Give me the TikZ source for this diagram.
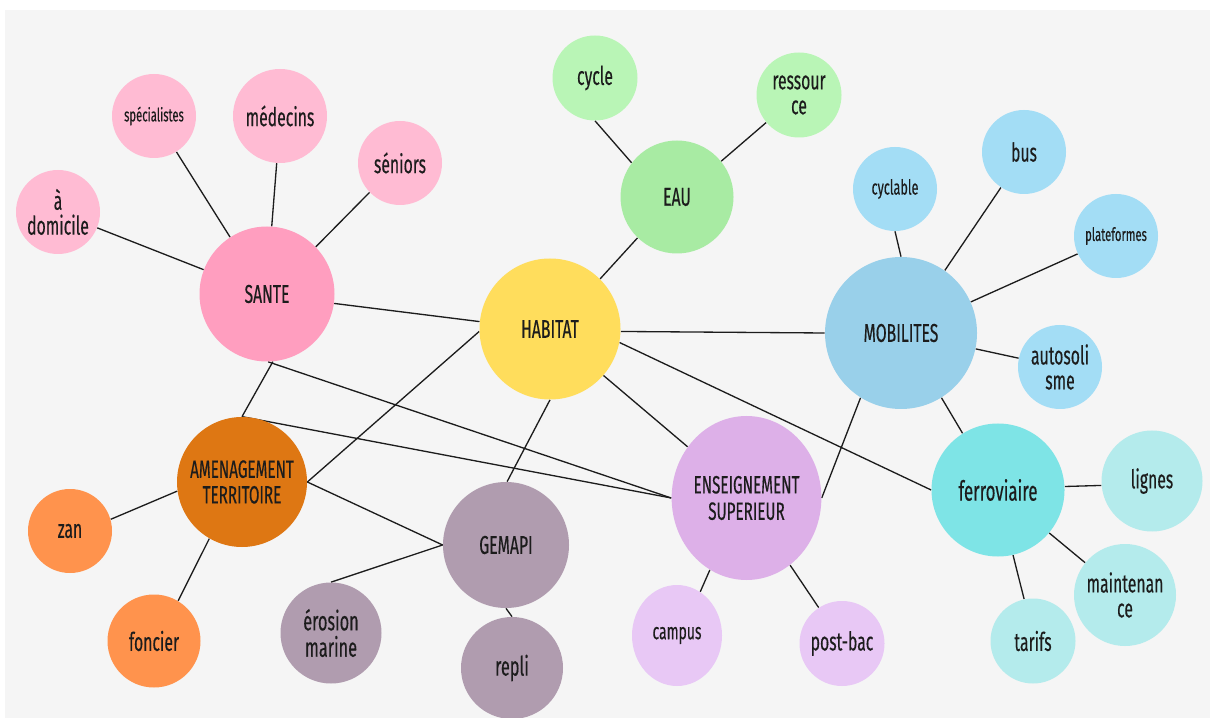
\documentclass[tikz,border=0pt]{standalone}
\usepackage{fontspec}
\setmainfont[FakeStretch=0.61,FakeBold=0.3]{Fira Sans}
\usepackage{tikz}
\usetikzlibrary{shapes.geometric}
\pgfdeclarelayer{bglayer}
\pgfdeclarelayer{edgelayer}
\pgfdeclarelayer{nodelayer}
\pgfsetlayers{bglayer,edgelayer,nodelayer,main}
\definecolor{paper}{HTML}{F5F5F5}
\definecolor{ink}{HTML}{1C1C1C}
\definecolor{santeC}{HTML}{FF9EBF}
\definecolor{santeL}{HTML}{FFBBD3}
\definecolor{habitatC}{HTML}{FFDD5C}
\definecolor{eauC}{HTML}{A8EBA3}
\definecolor{eauL}{HTML}{B9F5B6}
\definecolor{mobC}{HTML}{99D0EA}
\definecolor{mobL}{HTML}{A3DDF5}
\definecolor{ferroC}{HTML}{7EE4E6}
\definecolor{ferroL}{HTML}{B4EBEC}
\definecolor{ensC}{HTML}{DDB0E8}
\definecolor{ensL}{HTML}{E8C8F5}
\definecolor{gemC}{HTML}{B09CAF}
\definecolor{amenC}{HTML}{DE7713}
\definecolor{amenL}{HTML}{FF934D}
\tikzstyle{bubble}=[circle,inner sep=0pt,align=center,text=ink]
\tikzstyle{hub}=[bubble,font=\fontsize{14.7}{15}\selectfont]
\tikzstyle{leaf}=[bubble,font=\fontsize{14.7}{14.2}\selectfont]
\tikzstyle{link}=[draw=ink,line width=0.75pt]

\begin{document}
\begin{tikzpicture}
	\useasboundingbox (0,0) rectangle (24.2,-14.36);
	\begin{pgfonlayer}{bglayer}
		\fill [paper] (0.1,-0.2) rectangle (24.2,-14.36);
	\end{pgfonlayer}
	\begin{pgfonlayer}{nodelayer}
		\node [style=hub, fill=santeC, minimum size=2.70cm] (sante) at (5.34, -5.88) {SANTE};
		\node [style=hub, fill=habitatC, minimum size=2.82cm] (habitat) at (11.00, -6.58) {HABITAT};
		\node [style=hub, fill=eauC, minimum size=2.26cm] (eau) at (13.54, -3.94) {EAU};
		\node [style=hub, fill=mobC, minimum size=3.04cm] (mobilites) at (18.02, -6.66) {MOBILITES};
		\node [style=hub, fill=amenC, minimum size=2.60cm, font=\fontsize{14.2}{14.6}\selectfont] (amenagement) at (4.84, -9.64) {AMENAGEMENT\\TERRITOIRE};
		\node [style=hub, fill=gemC, minimum size=2.52cm] (gemapi) at (10.12, -10.90) {GEMAPI};
		\node [style=hub, ellipse, fill=ensC, minimum width=2.98cm, minimum height=3.28cm, font=\fontsize{14.2}{15}\selectfont] (ens) at (14.93, -9.96) {ENSEIGNEMENT\\SUPERIEUR};
		\node [style=hub, fill=ferroC, minimum size=2.66cm, font=\fontsize{15.7}{15.7}\selectfont] (ferroviaire) at (19.96, -9.80) {ferroviaire};
		\node [style=leaf, fill=santeL, minimum size=1.68cm] (domicile) at (1.16, -4.24) {à\\domicile};
		\node [style=leaf, fill=santeL, minimum size=1.68cm, font=\fontsize{10.5}{12}\selectfont] (specialistes) at (3.08, -2.32) {spécialistes};
		\node [style=leaf, fill=santeL, minimum size=1.88cm] (medecins) at (5.60, -2.32) {médecins};
		\node [style=leaf, fill=santeL, minimum size=1.68cm] (seniors) at (8.00, -3.26) {séniors};
		\node [style=leaf, fill=eauL, minimum size=1.70cm] (cycle) at (11.90, -1.56) {cycle};
		\node [style=leaf, fill=eauL, minimum size=1.70cm] (ressource) at (15.98, -1.90) {ressour\\ce};
		\node [style=leaf, fill=mobL, minimum size=1.68cm, font=\fontsize{11.8}{12}\selectfont] (cyclable) at (17.90, -3.78) {cyclable};
		\node [style=leaf, fill=mobL, minimum size=1.68cm] (bus) at (20.48, -3.04) {bus};
		\node [style=leaf, fill=mobL, minimum size=1.68cm, font=\fontsize{10.5}{12}\selectfont] (plateformes) at (22.32, -4.72) {plateformes};
		\node [style=leaf, fill=mobL, minimum size=1.68cm] (autosolisme) at (21.20, -7.34) {autosoli\\sme};
		\node [style=leaf, fill=ferroL, minimum size=2.02cm] (lignes) at (23.04, -9.62) {lignes};
		\node [style=leaf, fill=ferroL, minimum size=2.04cm] (maintenance) at (22.50, -11.90) {maintenan\\ce};
		\node [style=leaf, fill=ferroL, minimum size=1.70cm] (tarifs) at (20.66, -12.82) {tarifs};
		\node [style=leaf, ellipse, fill=ensL, minimum width=1.80cm, minimum height=2.02cm, font=\fontsize{13}{13}\selectfont] (campus) at (13.54, -12.71) {campus};
		\node [style=leaf, fill=ensL, minimum size=1.70cm] (postbac) at (16.84, -12.87) {post-bac};
		\node [style=leaf, fill=gemC, minimum size=2.02cm, font=\fontsize{15.2}{15}\selectfont] (erosion) at (6.62, -12.66) {érosion\\marine};
		\node [style=leaf, fill=gemC, minimum size=2.04cm, font=\fontsize{15.2}{15}\selectfont] (repli) at (10.24, -13.36) {repli};
		\node [style=leaf, fill=amenL, minimum size=1.68cm] (zan) at (1.40, -10.62) {zan};
		\node [style=leaf, fill=amenL, minimum size=1.86cm] (foncier) at (3.08, -12.82) {foncier};
	\end{pgfonlayer}
	\begin{pgfonlayer}{edgelayer}
		% SANTE
		\draw [style=link] (sante.159) to (domicile.-22);
		\draw [style=link] (sante.123) to (specialistes.-58);
		\draw [style=link] (sante.86) to (medecins.-94);
		\draw [style=link] (sante.44) to (seniors.-136);
		\draw [style=link] (sante.-8) to (habitat.174);
		\draw [style=link] (sante.-85) to (amenagement.90);
		\draw [style=link] (sante.-89) to (ens.180);
		% AMENAGEMENT
		\draw [style=link] (amenagement.90) to (ens.180);
		\draw [style=link] (amenagement.0) to (habitat.-178);
		\draw [style=link] (amenagement.0) to (gemapi.180);
		\draw [style=link] (amenagement.188) to (zan.16);
		\draw [style=link] (amenagement.-120) to (foncier.59);
		% GEMAPI
		\draw [style=link] (gemapi.180) to (erosion.90);
		\draw [style=link] (gemapi.-90) to (repli.90);
		% HABITAT
		\draw [style=link] (habitat.-90) to (gemapi.89);
		\draw [style=link] (habitat.45) to (eau.-134);
		\draw [style=link] (habitat.-2) to (mobilites.180);
		\draw [style=link] (habitat.-41) to (ens.139);
		\draw [style=link] (habitat.-11) to (ferroviaire.180);
		% EAU
		\draw [style=link] (eau.143) to (cycle.-90);
		\draw [style=link] (eau.39) to (ressource.-140);
		% MOBILITES
		\draw [style=link] (mobilites.90) to (cyclable.-90);
		\draw [style=link] (mobilites.55) to (bus.-123);
		\draw [style=link] (mobilites.24) to (plateformes.205);
		\draw [style=link] (mobilites.-12) to (autosolisme.168);
		\draw [style=link] (mobilites.-122) to (ens.0);
		\draw [style=link] (mobilites.-58) to (ferroviaire.122);
		% ferroviaire
		\draw [style=link] (ferroviaire.3) to (lignes.185);
		\draw [style=link] (ferroviaire.-40) to (maintenance.141);
		\draw [style=link] (ferroviaire.-77) to (tarifs.102);
		% ENSEIGNEMENT
		\draw [style=link] (ens.-117) to (campus.62);
		\draw [style=link] (ens.-57) to (postbac.123);
	\end{pgfonlayer}
\end{tikzpicture}
\end{document}
